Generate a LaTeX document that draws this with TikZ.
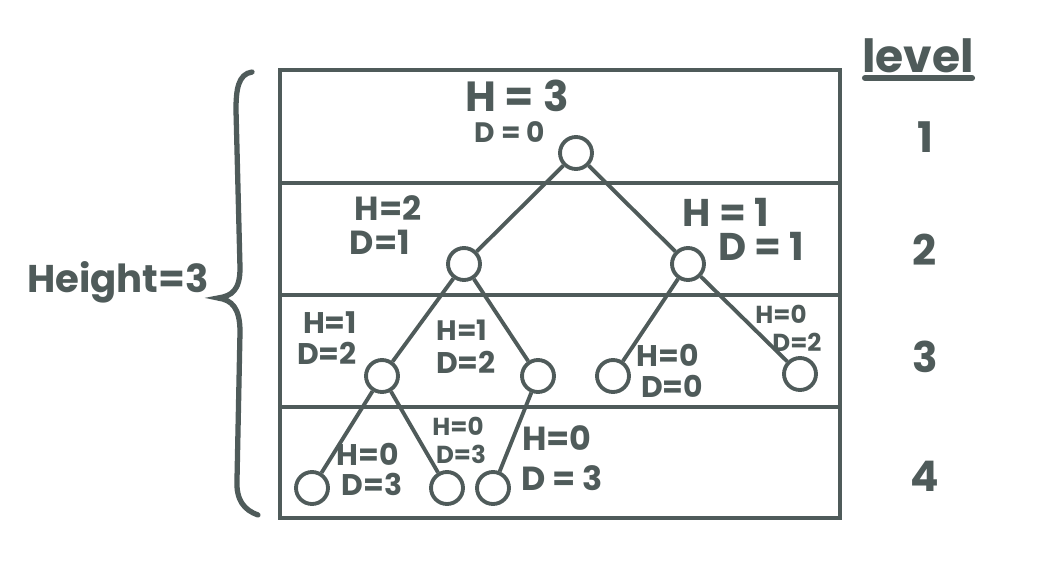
\documentclass[tikz,border=0pt]{standalone}
\usepackage{fontspec}
\setmainfont{Poppins}
\usetikzlibrary{positioning}
\definecolor{ink}{HTML}{4F5B5A}

\begin{document}
\begin{tikzpicture}[x=0.02cm,y=-0.02cm,color=ink,line width=2.2pt,
    vert/.style={circle,draw,minimum size=0.64cm,inner sep=0pt},
    lab/.style={inner sep=0pt,font=\fontsize{#1}{#1}\selectfont\bfseries},
    lab/.default=17]
    \useasboundingbox (0,0) rectangle (1041,585);
    % levels
    \draw (280,70) rectangle (840,518);
    \foreach \y in {183,295,407}
        \draw (280,\y) -- (840,\y);
    % tree
    \node[vert] (r) at (576,153) {};
    \node[vert] (a) at (464,264) {};
    \node[vert] (b) at (688,264) {};
    \node[vert] (c) at (382,376) {};
    \node[vert] (d) at (538,376) {};
    \node[vert] (e) at (613,376) {};
    \node[vert] (f) at (800,374) {};
    \node[vert] (g) at (312,488) {};
    \node[vert] (h) at (447,488) {};
    \node[vert] (i) at (493,488) {};
    \path[-] (r) edge (a)
                 edge (b)
             (a) edge (c)
                 edge (d)
             (b) edge (e)
                 edge (f)
             (c) edge (g)
                 edge (h)
             (d) edge (i);
    % heights and depths
    \node[lab=24] (rh) at (517,96) {H = 3};
    \node[lab=16] (rd) at (510,132) {D = 0};
    \node[lab=19] (ah) at (388,208) {H=2};
    \node[lab=19] (ad) at (380,242) {D=1};
    \node[lab=22] (bh) at (726,212) {H = 1};
    \node[lab=22] (bd) at (761,246) {D = 1};
    \node[lab] (ch) at (330,323) {H=1};
    \node[lab] (cd) at (327,353) {D=2};
    \node[lab=16] (dh) at (462,330) {H=1};
    \node[lab] (dd) at (466,362) {D=2};
    \node[lab] (eh) at (668,355) {H=0};
    \node[lab] (ed) at (672,386) {D=0};
    \node[lab=14] (fh) at (781,314) {H=0};
    \node[lab=14] (fd) at (797,342) {D=2};
    \node[lab] (gh) at (368,454) {H=0};
    \node[lab] (gd) at (372,484) {D=3};
    \node[lab=14] (hh) at (458,426) {H=0};
    \node[lab=14] (hd) at (461,454) {D=3};
    \node[lab=19] (ih) at (557,438) {H=0};
    \node[lab=19] (id) at (562,478) {D = 3};
    % height brace
    \draw[line cap=round,line width=3pt] (252,72) .. controls (238,74) and (236,90) .. (236,110)
        -- (240,268) .. controls (240,290) and (232,296) .. (218,298)
        .. controls (232,300) and (240,308) .. (240,332)
        -- (237,480) .. controls (236,500) and (244,510) .. (258,515);
    \node[lab=22] (ht) at (118,282) {Height=3};
    % level column
    \node[lab=26] (lv) at (918,56) {level};
    \draw[line cap=round,line width=3.5pt] (865,78) -- (972,78);
    \foreach \n/\y in {1/137,2/250,3/357,4/476}
        \node[lab=24] (l\n) at (925,\y) {\n};
\end{tikzpicture}
\end{document}
